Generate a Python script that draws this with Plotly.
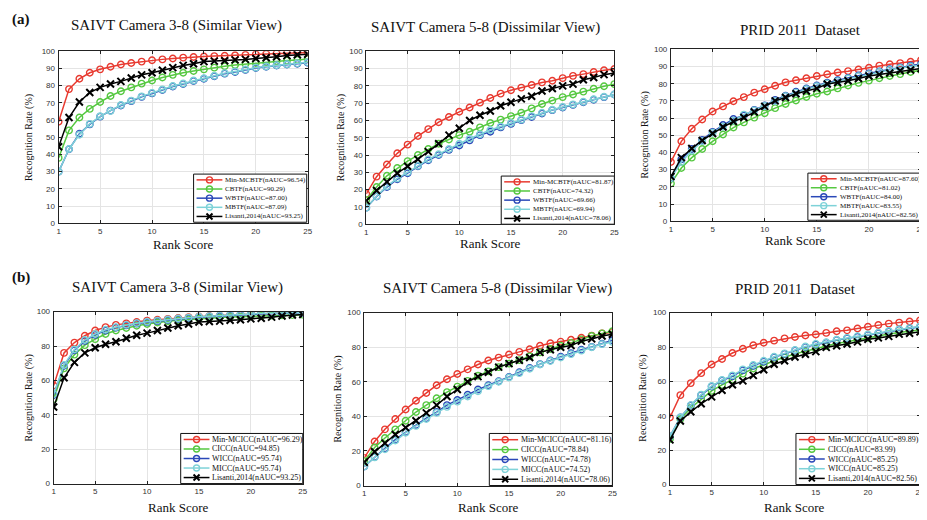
import plotly.graph_objects as go

# reference canvas is 927x520; the page body adds an 8px margin, so the figure is drawn 8px smaller
REF_W, REF_H = 927, 520
OFF = 8
W, H = REF_W - OFF, REF_H - OFF

ranks = [1, 2, 3, 4, 5, 6, 7, 8, 9, 10, 11, 12, 13, 14, 15, 16, 17, 18, 19, 20, 21, 22, 23, 24, 25]
x_ticks = [1, 5, 10, 15, 20, 25]

# ---------- (a) SAIVT 3-8 ----------
a1_min = [59, 78, 84, 87.5, 89.5, 91, 92.3, 93.2, 94, 94.8, 95.3, 95.8, 96.3, 96.7, 97, 97.2, 97.4, 97.7, 98, 98.3, 98.5, 98.8, 99, 99.2, 99.3]
a1_c = [38, 54, 61.5, 66.5, 70.5, 74, 76.8, 79, 81.2, 83, 84.8, 86.3, 87.5, 88.5, 89.5, 90.5, 91.3, 92, 92.6, 93.2, 93.7, 94.2, 94.6, 95, 95.5]
a1_w = [30, 43, 52, 57.5, 62, 65.5, 68.5, 71, 73.5, 75.5, 77.5, 79.5, 81, 82.7, 84, 85.5, 87, 88, 89.2, 90.3, 91, 91.7, 92.3, 92.8, 93.3]
a1_m = [30, 43.2, 51.5, 57.8, 62.2, 65.3, 68.8, 71.3, 73.8, 75.8, 77.8, 79.8, 81.3, 83, 84.3, 85.8, 87.3, 88.3, 89.5, 90.5, 91.2, 91.9, 92.5, 93, 93.6]
lis_38 = [44.5, 61.5, 70.5, 76, 79, 81, 82.5, 84.5, 86.3, 87.5, 89, 90.5, 91.8, 92.8, 94, 94.3, 94.5, 95, 95.3, 95.8, 96.2, 96.8, 97.5, 98, 98.3]

# ---------- (a) SAIVT 5-8 ----------
a2_min = [17.5, 27.5, 34.5, 41, 46, 51, 55, 59, 62, 65, 67.5, 70.3, 73, 75.5, 77.5, 79, 80.5, 82, 83, 84.5, 85.8, 86.8, 88, 89, 89.8]
a2_c = [14, 21.5, 28, 32.5, 36.5, 40, 43.5, 46.5, 49, 51.5, 53.5, 56, 58.5, 60.5, 62.5, 64.5, 67, 69.5, 71.5, 73.5, 75, 76.7, 78.3, 79.8, 81]
a2_w = [9.5, 16, 21.5, 26, 29.5, 33.5, 37, 40, 43, 45.5, 48.5, 51.5, 53.5, 56, 58, 60.2, 62, 64, 66, 67.5, 69, 70.5, 72, 73.5, 75]
a2_m = [9.5, 16.2, 22, 26.5, 30, 33.8, 37.5, 40.5, 43.5, 46.5, 49.5, 52, 54.5, 56.5, 58.5, 60.5, 62.5, 64.5, 66.2, 67.8, 69.3, 70.8, 72.3, 73.7, 75]
lis_58 = [13.5, 19.5, 24.5, 29.5, 33.5, 37.5, 42, 46.5, 51.5, 55.5, 60, 63, 65.5, 68.5, 70.5, 72.5, 74, 77, 78.5, 80, 81, 83.5, 84.8, 86.5, 87.5]

# ---------- (a) PRID 2011 ----------
a3_min = [34.5, 46.5, 53.8, 59.2, 63.8, 66.8, 69.8, 72.2, 74.8, 76.8, 78.8, 80.8, 82, 83.2, 84.5, 85.5, 86.5, 87.3, 88.3, 89.3, 90.5, 91.3, 92, 92.8, 93.7]
a3_c = [22, 31, 37, 42, 46.5, 50.5, 54.5, 57.5, 60.3, 62.8, 65.8, 68.2, 70.2, 72.3, 74.2, 75.5, 77.3, 79, 80.5, 81.8, 83.2, 84.5, 85.6, 86.8, 87.8]
a3_w = [25, 36, 42, 47.3, 52, 56, 59.5, 61.5, 64.8, 67.3, 70.5, 73, 75.3, 77.2, 79, 80.6, 82, 83.3, 84.8, 86, 87.2, 88.4, 89.5, 90.5, 91.5]
a3_m = [25, 34.5, 41, 46.5, 51.5, 55, 58.5, 62, 64.5, 67, 69.8, 72.8, 74.8, 76.8, 78.5, 80.2, 81.5, 83, 84.4, 85.6, 86.8, 88, 89.1, 90, 90.7]
lis_prid = [26, 37, 42.3, 47, 51, 54.8, 58, 60.3, 63.5, 66.8, 70, 72, 74.2, 75.8, 77.3, 79.8, 80.7, 81.7, 83, 84.5, 85.3, 86.2, 87.5, 88, 88.8]

# ---------- (b) SAIVT 3-8 ----------
b1_min = [57, 76, 82, 86, 89, 91, 92.3, 93.2, 94, 94.8, 95.3, 95.8, 96.3, 96.8, 97.2, 97.5, 97.8, 98.1, 98.4, 98.7, 98.9, 99.1, 99.3, 99.5, 99.7]
b1_c = [49, 67, 75, 80.5, 84, 87, 89, 90.5, 91.8, 92.8, 93.7, 94.4, 95, 95.5, 96, 96.3, 96.6, 96.9, 97.1, 97.3, 97.5, 97.7, 97.9, 98, 98.2]
b1_w = [51.5, 68.5, 77.5, 83, 86.5, 89, 90.7, 92, 93, 93.8, 94.5, 95.1, 95.7, 96.2, 96.7, 97.1, 97.5, 97.8, 98.1, 98.4, 98.6, 98.8, 99, 99.2, 99.3]
b1_m = [52, 69, 78, 83.5, 87, 89.5, 91, 92.3, 93.3, 94.1, 94.8, 95.4, 96, 96.5, 97, 97.4, 97.8, 98.1, 98.4, 98.7, 98.9, 99.1, 99.3, 99.4, 99.5]

# ---------- (b) SAIVT 5-8 ----------
b2_min = [16, 25.5, 32.5, 38.5, 44, 49, 53.5, 58, 61.5, 64.5, 67.2, 70, 72.3, 74, 75.8, 77.3, 78.8, 80.8, 82.3, 83.2, 84.3, 85.5, 86.7, 88, 88.8]
b2_c = [14, 22, 27.5, 32.5, 37.5, 42.5, 46.5, 50.5, 54, 57.2, 60.5, 63.5, 66, 68.5, 70.5, 72.5, 74.7, 77, 79, 80.8, 82.5, 84.5, 86.5, 88, 89.2]
b2_w = [11, 16.5, 21.5, 26.5, 31, 35, 39, 42.5, 46.5, 49.5, 52.5, 55.5, 58, 60.3, 62.8, 65.5, 68, 70.2, 72.3, 74.5, 76.5, 78.5, 80.2, 82, 84]
b2_m = [11, 16.3, 21, 26, 30.5, 34.5, 38.5, 42, 45.5, 48.5, 51.5, 54.5, 57.5, 60, 62.5, 65, 67.5, 70, 72, 74, 76, 78, 80, 81.8, 83]

# ---------- (b) PRID 2011 ----------
b3_min = [39, 52, 59, 64.8, 69.8, 73, 76.5, 79, 81, 82.5, 83.7, 85, 85.8, 86.7, 87.3, 88.2, 89.2, 89.7, 90.8, 91.8, 92.8, 93.6, 94.2, 94.8, 95.5]
b3_c = [26.5, 38, 44.5, 49.5, 54.5, 58, 61, 64.5, 67.5, 69.5, 72, 74, 76, 77.5, 79, 80.5, 82, 83, 84.2, 85.4, 86.5, 87.5, 88.5, 89.3, 90]
b3_w = [28, 39, 46, 52, 57, 60.5, 63, 66.5, 69, 71.5, 74, 76, 78, 80, 81.5, 82.5, 84, 85, 86, 87, 88, 89, 90, 90.8, 91.8]
b3_m = [28, 39, 46.2, 52.3, 57.3, 60.8, 63.5, 67, 69.5, 72, 74.3, 76.3, 78.3, 80.3, 81.8, 82.8, 84.2, 85.3, 86.3, 87.3, 88.3, 89.3, 90.3, 91, 92]

titles = ["SAIVT Camera 3-8 (Similar View)", "SAIVT Camera 5-8 (Dissimilar View)", "PRID 2011  Dataset",
          "SAIVT Camera 3-8 (Similar View)", "SAIVT Camera 5-8 (Dissimilar View)", "PRID 2011  Dataset"]

labels_a1 = ["Min-MCBTF(nAUC=96.54)", "CBTF(nAUC=90.29)", "WBTF(nAUC=87.00)", "MBTF(nAUC=87.09)", "Lisanti,2014(nAUC=93.25)"]
labels_a2 = ["Min-MCBTF(nAUC=81.87)", "CBTF(nAUC=74.32)", "WBTF(nAUC=69.66)", "MBTF(nAUC=69.94)", "Lisanti,2014(nAUC=78.06)"]
labels_a3 = ["Min-MCBTF(nAUC=87.60)", "CBTF(nAUC=81.02)", "WBTF(nAUC=84.00)", "MBTF(nAUC=83.55)", "Lisanti,2014(nAUC=82.56)"]
labels_b1 = ["Min-MCICC(nAUC=96.29)", "CICC(nAUC=94.85)", "WICC(nAUC=95.74)", "MICC(nAUC=95.74)", "Lisanti,2014(nAUC=93.25)"]
labels_b2 = ["Min-MCICC(nAUC=81.16)", "CICC(nAUC=78.84)", "WICC(nAUC=74.78)", "MICC(nAUC=74.52)", "Lisanti,2014(nAUC=78.06)"]
labels_b3 = ["Min-MCICC(nAUC=89.89)", "CICC(nAUC=83.99)", "WICC(nAUC=85.25)", "WICC(nAUC=85.25)", "Lisanti,2014(nAUC=82.56)"]

colors = ["#e83a30", "#55c840", "#2a48b8", "#7ed2d8", "#000000"]

SERIF = "Liberation Serif, Times New Roman, serif"
SANS = "Liberation Sans, Arial, sans-serif"


def px(x):
    return (x - OFF) / W


def py(y):
    return 1 - (y - OFF) / H


panels = [
    dict(data=[a1_min, a1_c, a1_w, a1_m, lis_38], labels=labels_a1, box=(57, 308, 48, 223), dtick=10,
         title_xy=(176, 22), xlab_y=245, ylab_x=27, leg=(193, 307, 173, 222), lfont=7),
    dict(data=[a2_min, a2_c, a2_w, a2_m, lis_58], labels=labels_a2, box=(367, 617, 48, 224), dtick=10,
         title_xy=(487, 24), xlab_y=244, ylab_x=341, leg=(503, 617, 175, 224), lfont=7),
    dict(data=[a3_min, a3_c, a3_w, a3_m, lis_prid], labels=labels_a3, box=(674, 926, 46, 221), dtick=10,
         title_xy=(805, 26), xlab_y=241, ylab_x=648, leg=(812, 926, 172, 220), lfont=7),
    dict(data=[b1_min, b1_c, b1_w, b1_m, lis_38], labels=labels_b1, box=(52, 303, 313, 488), dtick=20,
         title_xy=(177, 288), xlab_y=512, ylab_x=27, leg=(180, 303, 437, 488), lfont=8),
    dict(data=[b2_min, b2_c, b2_w, b2_m, lis_58], labels=labels_b2, box=(365, 615, 314, 490), dtick=20,
         title_xy=(499, 289), xlab_y=512, ylab_x=339, leg=(491, 615, 437, 490), lfont=8),
    dict(data=[b3_min, b3_c, b3_w, b3_m, lis_prid], labels=labels_b3, box=(673, 925, 314, 489), dtick=20,
         title_xy=(800, 290), xlab_y=512, ylab_x=645, leg=(800, 925, 437, 489), lfont=8),
]

fig = go.Figure()
shapes = []
annotations = []
layout = {}

for i, p in enumerate(panels):
    n = "" if i == 0 else str(i + 1)
    xa, ya = "x" + n, "y" + n
    x0, x1, y0, y1 = p["box"]
    for j, series in enumerate(p["data"]):
        c = colors[j]
        if j == 4:
            mk = dict(symbol="x-thin-open", size=7, line=dict(color=c, width=2))
        else:
            mk = dict(symbol="circle-open", size=6.5, color=c, line=dict(color=c, width=1.4))
        fig.add_trace(go.Scatter(x=ranks, y=series, mode="lines+markers", xaxis=xa, yaxis=ya,
                                 line=dict(color=c, width=1.5), marker=mk, showlegend=False,
                                 name=p["labels"][j]))
    axis_common = dict(showline=True, linecolor="#222222", linewidth=1, mirror="ticks",
                       ticks="inside", ticklen=3, tickcolor="#222222", showgrid=True,
                       gridcolor="#e4e4e4", gridwidth=1, zeroline=False,
                       tickfont=dict(family=SANS, size=8, color="#333333"))
    layout["xaxis" + n] = dict(axis_common, domain=[px(x0), min(px(x1), 1)], range=[1, 25],
                               tickvals=x_ticks, anchor=ya)
    layout["yaxis" + n] = dict(axis_common, domain=[py(y1), py(y0)], range=[0, 100],
                               dtick=p["dtick"], anchor=xa, ticklabelstandoff=1)
    tx, ty = p["title_xy"]
    annotations.append(dict(text=titles[i], x=px(tx), y=py(ty), xref="paper", yref="paper",
                            showarrow=False, xanchor="center", yanchor="middle",
                            font=dict(family=SERIF, size=15, color="#111111")))
    annotations.append(dict(text="Rank Score", x=px((x0 + x1) / 2), y=py(p["xlab_y"]), xref="paper",
                            yref="paper", showarrow=False, xanchor="center", yanchor="middle",
                            font=dict(family=SERIF, size=13, color="#111111")))
    annotations.append(dict(text="Recognition Rate (%)", x=px(p["ylab_x"]), y=py((y0 + y1) / 2),
                            xref="paper", yref="paper", showarrow=False, textangle=-90,
                            xanchor="center", yanchor="middle",
                            font=dict(family=SERIF, size=10, color="#111111")))
    lx0, lx1, ly0, ly1 = p["leg"]
    shapes.append(dict(type="rect", xref="paper", yref="paper", x0=px(lx0), x1=min(px(lx1), 0.999),
                       y0=py(ly1), y1=py(ly0), line=dict(color="#111111", width=1),
                       fillcolor="white", layer="above"))
    hgt = ly1 - ly0
    for j, lab in enumerate(p["labels"]):
        cy = ly0 + hgt * (0.12 + j * 0.19)
        c = colors[j]
        sx0, sx1 = lx0 + 3, lx0 + 29
        cx = (sx0 + sx1) / 2
        shapes.append(dict(type="line", xref="paper", yref="paper", x0=px(sx0), x1=px(sx1),
                           y0=py(cy), y1=py(cy), line=dict(color=c, width=1.5), layer="above"))
        if j == 4:
            for (a, b) in [(-3, 3), (3, -3)]:
                shapes.append(dict(type="line", xref="paper", yref="paper", xsizemode="pixel",
                                   ysizemode="pixel", xanchor=px(cx), yanchor=py(cy),
                                   x0=-3, x1=3, y0=a, y1=b, line=dict(color=c, width=2),
                                   layer="above"))
        else:
            shapes.append(dict(type="circle", xref="paper", yref="paper", xsizemode="pixel",
                               ysizemode="pixel", xanchor=px(cx), yanchor=py(cy),
                               x0=-3, x1=3, y0=-3, y1=3, line=dict(color=c, width=1.4),
                               layer="above"))
        annotations.append(dict(text=lab, x=px(sx1 + 1), y=py(cy), xref="paper", yref="paper",
                                showarrow=False, xanchor="left", yanchor="middle",
                                font=dict(family=SERIF, size=p["lfont"], color="#111111")))

annotations.append(dict(text="<b>(a)</b>", x=px(8), y=py(16), xref="paper", yref="paper",
                        showarrow=False, xanchor="left", yanchor="middle",
                        font=dict(family=SERIF, size=15, color="#111111")))
annotations.append(dict(text="<b>(b)</b>", x=px(8), y=py(278), xref="paper", yref="paper",
                        showarrow=False, xanchor="left", yanchor="middle",
                        font=dict(family=SERIF, size=15, color="#111111")))

fig.update_layout(width=W, height=H, margin=dict(l=0, r=0, t=0, b=0), paper_bgcolor="white",
                  plot_bgcolor="white", showlegend=False, shapes=shapes, annotations=annotations,
                  **layout)

fig.write_html("out.html")
